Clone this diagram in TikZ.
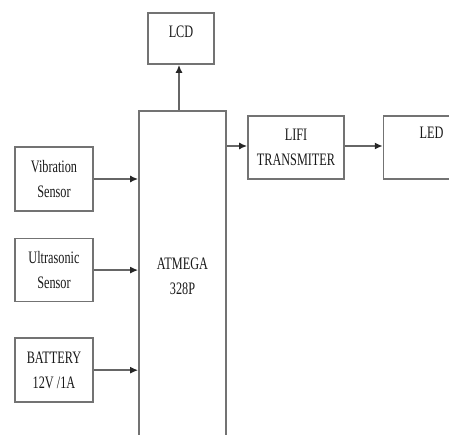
\documentclass[tikz,border=0pt]{standalone}
\usepackage{fontspec}
\setmainfont{Liberation Serif}[FakeStretch=0.7]
\usepackage{xcolor}
\usepackage{tikz}
\usetikzlibrary{arrows.meta,positioning,calc}

\begin{document}
\begin{tikzpicture}[
    x=1pt, y=-1pt,
    >={Latex[length=8pt,width=7pt,color=black!85]},
    every node/.style={font=\fontsize{17.5}{25}\selectfont, text=black!90},
    block/.style={
        rectangle, draw=black!55, line width=1.6pt,
        minimum width=78pt, minimum height=64pt,
        inner sep=2pt, text centered, align=center
    },
    mcu/.style={
        block, minimum width=87pt, minimum height=330pt
    },
    raised/.style={text depth=#1},
    arr/.style={->, draw=black!60, line width=1.6pt}
]

% --- canvas ---
\useasboundingbox (0,0) rectangle (449,435);
\clip (0,0) rectangle (449,435);

% --- Controller ---
\node[mcu] (atmega) at (182.5,276) {ATMEGA\\328P};

% --- Display ---
\node[block, minimum width=66pt, minimum height=51pt, raised=13pt] (lcd) at (181,38.5) {LCD};

% --- Inputs ---
\node[block] (vib) at (54,179) {Vibration\\Sensor};
\node[block, minimum height=63pt, below=26pt of vib] (ultra) {Ultrasonic\\Sensor};
\node[block, below=35pt of ultra] (batt) {BATTERY\\12V /1A};

% --- Output chain ---
\node[block, minimum width=96pt, minimum height=63pt] (lifi) at (296,147.5) {LIFI\\TRANSMITER};
\node[block, minimum width=96pt, minimum height=63pt, right=38pt of lifi, raised=29pt] (led) {LED};

% --- Arrows ---
\draw[arr] (vib.east) -- (vib.east -| atmega.west);
\draw[arr] (ultra.east) -- (ultra.east -| atmega.west);
\draw[arr] (batt.east) -- (batt.east -| atmega.west);
\draw[arr] (atmega.north -| lcd.south) ++(-2,0) -- ($(lcd.south)+(-2,0)$);
\draw[arr] ($(lifi.west -| atmega.east)+(0,-1.5)$) -- ($(lifi.west)+(0,-1.5)$);
\draw[arr] ($(lifi.east)+(0,-1.5)$) -- ($(led.west)+(0,-1.5)$);

\end{tikzpicture}
\end{document}
